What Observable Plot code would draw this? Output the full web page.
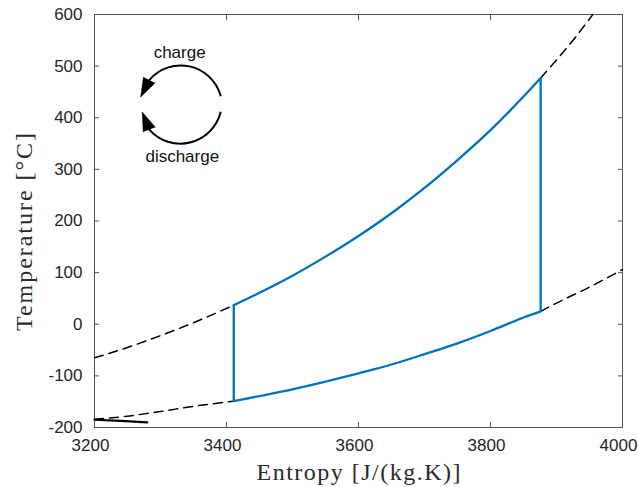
<!DOCTYPE html>
<html>
<head>
<meta charset="utf-8">
<script src="https://cdn.jsdelivr.net/npm/d3@7"></script>
<script src="https://cdn.jsdelivr.net/npm/@observablehq/plot@0.6"></script>
<style>
  html, body { margin: 0; padding: 0; background: #fff; }
  #chart svg { display: block; }
</style>
</head>
<body>
<div id="chart"></div>
<script>
// ---- data ----
const xTicks = [3200, 3400, 3600, 3800, 4000];
const yTicks = [-200, -100, 0, 100, 200, 300, 400, 500, 600];

// high-pressure isobar (dashed extensions)
const highLeftS  = [3200, 3250, 3300, 3350, 3411];
const highLeftT  = [-65, -45, -22, 3, 37];
const highRightS = [3876, 3900, 3930, 3955];
const highRightT = [477, 512, 558, 600];

// low-pressure isobar (dashed extensions)
const lowLeftS  = [3200, 3250, 3300, 3350, 3411];
const lowLeftT  = [-184, -178, -169, -159, -149];
const lowRightS = [3876, 3900, 3950, 4000];
const lowRightT = [25, 41, 72, 106];

// cycle (blue) – upper branch
const cycleUpperS = [3411, 3450, 3500, 3550, 3600, 3650, 3700, 3750, 3800, 3850, 3876];
const cycleUpperT = [37, 61, 94, 131, 171, 215, 264, 318, 376, 441, 477];
// cycle (blue) – lower branch
const cycleLowerS = [3411, 3450, 3500, 3550, 3600, 3650, 3700, 3750, 3800, 3850, 3876];
const cycleLowerT = [-149, -139, -126, -111, -95, -78, -58, -37, -13, 13, 25];

// short solid black segment at the bottom left
const solidS = [3200, 3240, 3280];
const solidT = [-185, -187, -190];

// charge / discharge annotation
const labelText = ["charge", "discharge"];
const labelS = [3329, 3333];
const labelT = [526, 325];
const arcFromS = [3391, 3391];
const arcFromT = [443, 410];
const headS = [3283, 3283];     // arrow-head base (arc ends here)
const headT = [473, 377];
const headAngle = [207, 338];   // direction of the head, degrees clockwise from up

// ---- build tables ----
const zip = (s, t) => s.map((v, i) => ({s: v, t: t[i]}));
const upper = zip(cycleUpperS, cycleUpperT);
const lower = zip(cycleLowerS, cycleLowerT);
const nU = cycleUpperS.length - 1;
const verticals = [
  {s: cycleUpperS[0], t1: cycleLowerT[0], t2: cycleUpperT[0]},
  {s: cycleUpperS[nU], t1: cycleLowerT[nU], t2: cycleUpperT[nU]}
];
const labels = labelText.map((d, i) => ({text: d, s: labelS[i], t: labelT[i]}));
const heads = headS.map((d, i) => ({s: d, t: headT[i], angle: headAngle[i]}));

const sansFont = "Liberation Sans, Arial, Helvetica, sans-serif";
const serifFont = "Liberation Serif, Times New Roman, serif";
const dash = {stroke: "#000", strokeWidth: 1.5, strokeDasharray: "9,6", curve: "monotone-x"};
const blue = "#0072BD";
const fmt = d => String(d);

const chart = Plot.plot({
  width: 638,
  height: 487,
  marginLeft: 94,
  marginRight: 16,
  marginTop: 14,
  marginBottom: 60,
  style: {fontFamily: sansFont, fontSize: "17px", color: "#262626", background: "#fff"},
  x: {domain: [3200, 4000]},
  y: {domain: [-200, 600]},
  marks: [
    // axes: labels
    Plot.axisX(xTicks, {anchor: "bottom", tickSize: 0, tickPadding: 11, dx: -4, tickFormat: fmt, label: null, fontSize: 17, fill: "#262626"}),
    Plot.axisY(yTicks, {anchor: "left", tickSize: 0, tickPadding: 12, tickFormat: fmt, label: null, fontSize: 17, fill: "#262626"}),
    // inward ticks on all four sides
    Plot.axisX(xTicks, {anchor: "bottom", tickSize: -5, tickFormat: () => "", label: null, stroke: "#555"}),
    Plot.axisX(xTicks, {anchor: "top", tickSize: -5, tickFormat: () => "", label: null, stroke: "#555"}),
    Plot.axisY(yTicks, {anchor: "left", tickSize: -5, tickFormat: () => "", label: null, stroke: "#555"}),
    Plot.axisY(yTicks, {anchor: "right", tickSize: -5, tickFormat: () => "", label: null, stroke: "#555"}),
    Plot.frame({stroke: "#555", strokeWidth: 1}),
    // dashed isobars
    Plot.line(zip(highLeftS, highLeftT), {x: "s", y: "t", ...dash}),
    Plot.line(zip(highRightS, highRightT), {x: "s", y: "t", ...dash}),
    Plot.line(zip(lowLeftS, lowLeftT), {x: "s", y: "t", ...dash}),
    Plot.line(zip(lowRightS, lowRightT), {x: "s", y: "t", ...dash}),
    // solid black segment
    Plot.line(zip(solidS, solidT), {x: "s", y: "t", stroke: "#000", strokeWidth: 2.2}),
    // blue cycle
    Plot.line(upper, {x: "s", y: "t", stroke: blue, strokeWidth: 2.3, curve: "monotone-x"}),
    Plot.line(lower, {x: "s", y: "t", stroke: blue, strokeWidth: 2.3, curve: "monotone-x"}),
    Plot.ruleX(verticals, {x: "s", y1: "t1", y2: "t2", stroke: blue, strokeWidth: 2.3}),
    // annotation arcs
    Plot.arrow([0], {x1: () => arcFromS[0], y1: () => arcFromT[0], x2: () => headS[0], y2: () => headT[0], bend: -62, headLength: 0, stroke: "#000", strokeWidth: 2}),
    Plot.arrow([1], {x1: () => arcFromS[1], y1: () => arcFromT[1], x2: () => headS[1], y2: () => headT[1], bend: 62, headLength: 0, stroke: "#000", strokeWidth: 2}),
    Plot.vector(heads, {x: "s", y: "t", rotate: "angle", length: 19, r: 6.5, shape: "spike", anchor: "start", fill: "#000", stroke: "#000", strokeWidth: 0.5}),
    Plot.text(labels, {x: "s", y: "t", text: "text", fontSize: 17, fontFamily: sansFont, fill: "#111"}),
    // axis titles
    Plot.text(["Entropy [J/(kg.K)]"], {frameAnchor: "bottom", dy: 45, textAnchor: "middle", lineAnchor: "middle", fontFamily: serifFont, fontSize: 24, fill: "#2a2a2a"}),
    Plot.text(["Temperature [°C]"], {frameAnchor: "left", dx: -70, dy: 11, rotate: -90, textAnchor: "middle", lineAnchor: "middle", fontFamily: serifFont, fontSize: 24, fill: "#2a2a2a"})
  ]
});
document.getElementById("chart").appendChild(chart);

// stretch the serif axis titles to the reference's extent (LaTeX-like spacing)
d3.select(chart).selectAll("text").each(function () {
  const t = this.textContent;
  if (t === "Entropy [J/(kg.K)]") { this.setAttribute("textLength", 204); this.setAttribute("lengthAdjust", "spacing"); }
  if (t === "Temperature [°C]") { this.setAttribute("textLength", 198); this.setAttribute("lengthAdjust", "spacing"); }
});
</script>
</body>
</html>
